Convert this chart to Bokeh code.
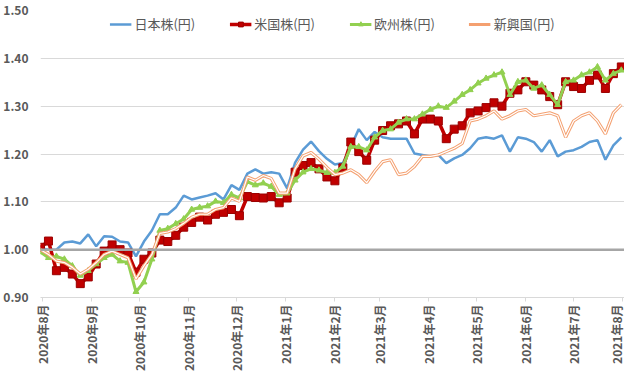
import math
import pandas as pd
from bokeh.plotting import figure
from bokeh.models import FixedTicker, Span, Legend, LegendItem, Range1d, NumeralTickFormatter
from bokeh.embed import file_html
from bokeh.resources import INLINE

# Observation dates (every 5 days from 2020-07-31 to 2021-07-31)
dates = pd.date_range("2020-07-31", periods=74, freq="5D")

japan = [1.003, 1.000, 1.000, 1.015, 1.017, 1.013, 1.032, 1.007, 1.028, 1.027,
         1.017, 1.015, 0.986, 1.017, 1.040, 1.074, 1.074, 1.088, 1.113, 1.105,
         1.109, 1.113, 1.118, 1.105, 1.135, 1.125, 1.159, 1.168, 1.159, 1.162,
         1.159, 1.128, 1.182, 1.209, 1.226, 1.206, 1.190, 1.178, 1.181, 1.215,
         1.252, 1.229, 1.246, 1.235, 1.232, 1.232, 1.232, 1.201, 1.198, 1.195,
         1.198, 1.181, 1.191, 1.198, 1.212, 1.232, 1.235, 1.232, 1.239, 1.205,
         1.235, 1.232, 1.225, 1.205, 1.229, 1.195, 1.205, 1.208, 1.215, 1.225,
         1.229, 1.188, 1.218, 1.235]

usa = [1.005, 1.018, 0.956, 0.963, 0.949, 0.929, 0.943, 0.970, 0.997, 1.010,
       1.000, 0.993, 0.953, 0.980, 0.993, 1.020, 1.017, 1.030, 1.047, 1.057,
       1.068, 1.062, 1.074, 1.078, 1.084, 1.071, 1.111, 1.109, 1.108, 1.111,
       1.098, 1.108, 1.162, 1.176, 1.182, 1.169, 1.152, 1.144, 1.171, 1.225,
       1.205, 1.187, 1.229, 1.249, 1.259, 1.263, 1.269, 1.242, 1.273, 1.273,
       1.269, 1.232, 1.252, 1.259, 1.286, 1.290, 1.297, 1.307, 1.300, 1.327,
       1.334, 1.351, 1.344, 1.334, 1.320, 1.303, 1.351, 1.341, 1.337, 1.354,
       1.365, 1.337, 1.368, 1.382]

europe = [0.995, 0.983, 0.986, 0.980, 0.966, 0.946, 0.956, 0.970, 0.983, 0.990,
          0.976, 0.973, 0.912, 0.932, 0.980, 1.040, 1.044, 1.054, 1.064, 1.084,
          1.088, 1.091, 1.101, 1.098, 1.115, 1.108, 1.142, 1.135, 1.139, 1.132,
          1.115, 1.118, 1.145, 1.162, 1.169, 1.166, 1.161, 1.161, 1.174, 1.215,
          1.215, 1.208, 1.235, 1.249, 1.252, 1.266, 1.273, 1.273, 1.283, 1.293,
          1.300, 1.297, 1.310, 1.324, 1.334, 1.348, 1.358, 1.365, 1.371, 1.324,
          1.351, 1.354, 1.337, 1.344, 1.324, 1.303, 1.351, 1.354, 1.365, 1.371,
          1.382, 1.354, 1.368, 1.375]

emerging = [1.000, 0.990, 0.976, 0.973, 0.963, 0.949, 0.959, 0.973, 0.990, 0.997,
            0.990, 0.983, 0.939, 0.966, 0.990, 1.034, 1.037, 1.044, 1.055, 1.068,
            1.074, 1.074, 1.084, 1.088, 1.108, 1.101, 1.152, 1.145, 1.155, 1.149,
            1.118, 1.118, 1.169, 1.196, 1.203, 1.189, 1.172, 1.157, 1.160, 1.167,
            1.157, 1.140, 1.164, 1.184, 1.188, 1.157, 1.160, 1.174, 1.195, 1.195,
            1.198, 1.205, 1.212, 1.222, 1.269, 1.273, 1.280, 1.290, 1.273, 1.280,
            1.290, 1.293, 1.280, 1.283, 1.286, 1.280, 1.235, 1.269, 1.280, 1.286,
            1.269, 1.242, 1.286, 1.303]

series_names = ["日本株(円)", "米国株(円)", "欧州株(円)", "新興国(円)"]

month_starts = pd.date_range("2020-08-01", "2021-08-01", freq="MS")
month_labels = ["2020年8月", "2020年9月", "2020年10月", "2020年11月", "2020年12月",
                "2021年1月", "2021年2月", "2021年3月", "2021年4月", "2021年5月",
                "2021年6月", "2021年7月", "2021年8月"]

y_ticks = [0.90, 1.00, 1.10, 1.20, 1.30, 1.40, 1.50]

JP = "Noto Sans CJK JP"

p = figure(width=624, height=373, x_axis_type="datetime",
           output_backend="svg", toolbar_location=None,
           x_range=Range1d(pd.Timestamp("2020-07-31"), pd.Timestamp("2021-08-02")),
           y_range=Range1d(0.90, 1.50),
           min_border_top=10, min_border_right=0, min_border_left=0, min_border_bottom=0)
p.outline_line_color = None
p.background_fill_color = "white"

# grid
p.xgrid.grid_line_color = None
p.ygrid.grid_line_color = "#d9d9d9"
p.ygrid.grid_line_width = 1

# y axis
p.yaxis.ticker = FixedTicker(ticks=y_ticks)
p.yaxis.formatter = NumeralTickFormatter(format="0.00")
p.yaxis.axis_line_color = None
p.yaxis.major_tick_line_color = None
p.yaxis.minor_tick_line_color = None
p.yaxis.major_label_text_font = JP
p.yaxis.major_label_text_font_size = "12px"
p.yaxis.major_label_text_font_style = "bold"
p.yaxis.major_label_text_color = "#595959"
p.yaxis.major_label_standoff = 6

# x axis
tick_ms = [int(pd.Timestamp(d).value // 10**6) for d in month_starts]
p.xaxis.ticker = FixedTicker(ticks=tick_ms)
p.xaxis.major_label_overrides = {t: lab for t, lab in zip(tick_ms, month_labels)}
p.xaxis.major_label_orientation = math.pi / 2
p.xaxis.axis_line_color = "#d9d9d9"
p.xaxis.major_tick_line_color = "#d9d9d9"
p.xaxis.major_tick_out = 4
p.xaxis.major_tick_in = 0
p.xaxis.minor_tick_line_color = None
p.xaxis.major_label_text_font = JP
p.xaxis.major_label_text_font_size = "12px"
p.xaxis.major_label_text_font_style = "bold"
p.xaxis.major_label_text_color = "#595959"
p.xaxis.major_label_standoff = 3

# series
r_jp = p.line(dates, japan, line_color="#5b9bd5", line_width=2.5)

r_us_l = p.line(dates, usa, line_color="#c00000", line_width=3.5)
r_us_m = p.scatter(dates, usa, marker="square", size=8,
                   fill_color="#c00000", line_color="#9a0000", line_width=1)

r_eu_l = p.line(dates, europe, line_color="#92d050", line_width=3)
r_eu_m = p.scatter(dates, europe, marker="triangle", size=6,
                   fill_color="#92d050", line_color="#92d050")

r_em_o = p.line(dates, emerging, line_color="#f4a070", line_width=3.2)
r_em_i = p.line(dates, emerging, line_color="white", line_width=1.2)

# 1.00 reference line
p.add_layout(Span(location=1.0, dimension="width", line_color="#a6a6a6", line_width=2.5))

legend = Legend(items=[
    LegendItem(label=series_names[0], renderers=[r_jp]),
    LegendItem(label=series_names[1], renderers=[r_us_l, r_us_m]),
    LegendItem(label=series_names[2], renderers=[r_eu_l, r_eu_m]),
    LegendItem(label=series_names[3], renderers=[r_em_o]),
], orientation="horizontal", location="top_center")
legend.background_fill_alpha = 0
legend.border_line_color = None
legend.label_text_font = JP
legend.label_text_font_size = "13px"
legend.label_text_color = "#595959"
legend.glyph_width = 22
legend.glyph_height = 12
legend.spacing = 34
legend.label_standoff = 3
legend.margin = 4
legend.padding = 2
p.add_layout(legend)

open("out.html", "w").write(file_html(p, INLINE))
